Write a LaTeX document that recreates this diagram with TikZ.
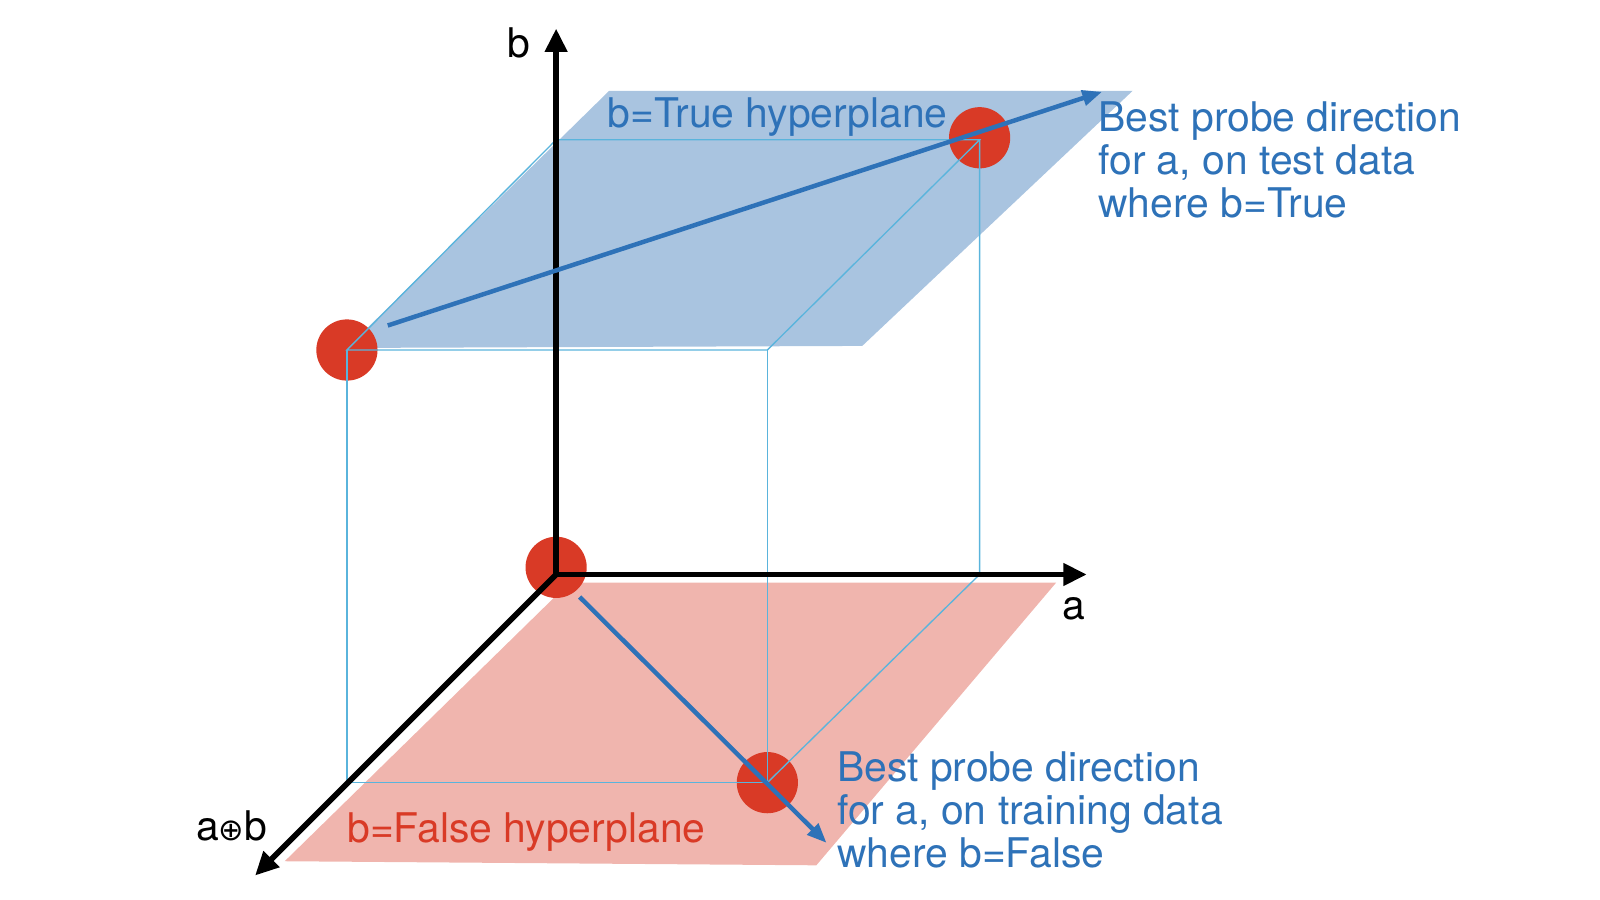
\documentclass[tikz,border=0pt]{standalone}
\usepackage{fontspec}
\setmainfont{TeX Gyre Heros}
\newfontfamily\dejavu{DejaVu Sans}
\usetikzlibrary{arrows.meta}
\definecolor{dotred}{RGB}{217,58,38}
\definecolor{planeblue}{RGB}{169,196,224}
\definecolor{planepink}{RGB}{240,181,174}
\definecolor{probeblue}{RGB}{46,114,184}
\definecolor{edgeblue}{RGB}{90,180,220}
\begin{document}
\begin{tikzpicture}[x=0.02cm,y=-0.02cm,
  axis/.style={line width=3.1pt,-{Triangle[length=13pt,width=12pt]}},
  probe/.style={line width=2.5pt,probeblue,-{Triangle[length=11pt,width=8.5pt]}},
  edge/.style={edgeblue,line width=0.75pt},
  dot/.style={circle,fill=dotred,minimum size=1.2cm,inner sep=0pt},
  lbl/.style={font=\fontsize{22.8}{24.2}\selectfont,inner sep=0pt},
  bluetxt/.style={lbl,text=probeblue,align=left}]
\useasboundingbox (0,0) rectangle (1568,882);
% cube vertices
\coordinate (O) at (545,563);
\coordinate (A) at (960,563);
\coordinate (C) at (340,767);
\coordinate (D) at (752,767);
\coordinate (Bt) at (545,137);
\coordinate (At) at (960,137);
\coordinate (Ct) at (340,343);
\coordinate (Dt) at (752,343);
% axis tips
\coordinate (btip) at (545,28);
\coordinate (atip) at (1065,563);
\coordinate (xtip) at (250,858);
% planes
\fill[planeblue] (597,89) -- (1110,89) -- (845,339) -- (340,341) -- cycle;
\fill[planepink] (558,571) -- (1035,571) -- (800,848) -- (279,844) -- cycle;
% dots
\node[dot] (d0) at (545,556) {};
\node[dot] (d1) at (340,343) {};
\node[dot] (d2) at (960,135) {};
\node[dot] (d3) at (752,767) {};
% cube edges
\draw[edge] (Bt) -- (At) -- (Dt) -- (Ct) -- cycle;
\draw[edge] (Ct) -- (C) -- (D) -- (Dt);
\draw[edge] (At) -- (A) -- (D);
% axes
\draw[axis] (O) -- (btip);
\draw[axis] (O) -- (atip);
\draw[axis] (O) -- (xtip);
% probe arrows
\coordinate (p1s) at (380,319);
\coordinate (p1e) at (1080,90);
\coordinate (p2s) at (568,585);
\coordinate (p2e) at (810,826);
\draw[probe] (p1s) -- (p1e);
\draw[probe] (p2s) -- (p2e);
% labels
\node[lbl] (lb) at (508,42) {b};
\node[lbl] (la) at (1052,597) {a};
\node[lbl] (lx) at (227,809) {a{\dejavu\fontsize{17}{17}\selectfont ⊕}b};
\node[lbl,text=probeblue,anchor=west] (tt) at (595,115) {b=True hyperplane};
\node[lbl,text=dotred,anchor=west] (tf) at (340,815) {b=False hyperplane};
\node[bluetxt,anchor=north west] (t1) at (1076,99) {Best probe direction\\for a, on test data\\where b=True};
\node[bluetxt,anchor=north west] (t2) at (820,736) {Best probe direction\\for a, on training data\\where b=False};
\end{tikzpicture}
\end{document}
